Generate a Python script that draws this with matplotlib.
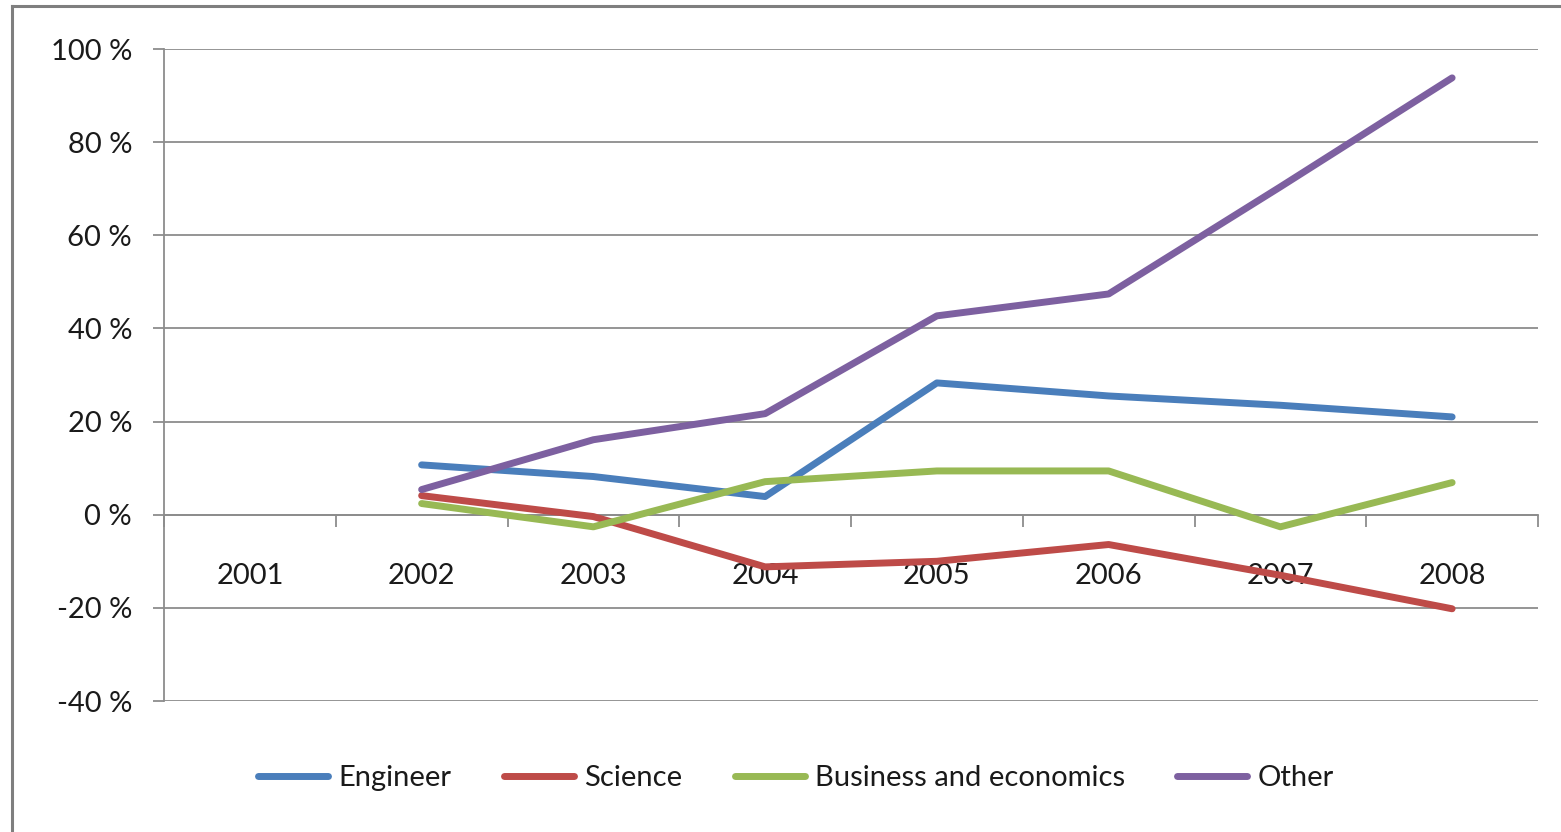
import matplotlib.pyplot as plt
from matplotlib.lines import Line2D
import numpy as np

years = ["2001", "2002", "2003", "2004", "2005", "2006", "2007", "2008"]
engineer = [np.nan, 10.7, 8.2, 3.9, 28.3, 25.5, 23.5, 21.0]
science = [np.nan, 4.1, -0.4, -11.2, -10.0, -6.4, -13.0, -20.2]
business = [np.nan, 2.4, -2.6, 7.1, 9.4, 9.4, -2.6, 6.9]
other = [np.nan, 5.4, 16.1, 21.7, 42.7, 47.4, 70.4, 93.8]

series = [
    ("Engineer", engineer, "#4A7EBB"),
    ("Science", science, "#BE4B48"),
    ("Business and economics", business, "#98B954"),
    ("Other", other, "#7D60A0"),
]

plt.rcParams["font.family"] = ["Lato", "DejaVu Sans"]
grid_col = "#8c8c8c"
txt_col = "#1a1a1a"

fig = plt.figure(figsize=(15.61, 8.32), dpi=100)
ax = fig.add_axes([164 / 1561, 1 - 701 / 832, (1538 - 164) / 1561, (701 - 49) / 832])

x = np.arange(len(years))
for name, vals, col in series:
    ax.plot(x, vals, color=col, lw=5, label=name, solid_capstyle="round",
            solid_joinstyle="round", zorder=3)

ax.set_xlim(-0.5, len(years) - 0.5)
ax.set_ylim(-40, 100)
yt = np.arange(-40, 101, 20)
ax.set_yticks(yt)
ax.set_yticklabels([f"{v} %" for v in yt])
ax.yaxis.grid(True, color=grid_col, lw=1.3)
ax.set_axisbelow(True)

for s in ["top", "right"]:
    ax.spines[s].set_visible(False)
ax.spines["left"].set_color(grid_col)
ax.spines["left"].set_linewidth(1.3)
ax.spines["bottom"].set_position(("data", 0))
ax.spines["bottom"].set_color(grid_col)
ax.spines["bottom"].set_linewidth(1.3)

ax.set_xticks(x)
ax.set_xticklabels(years)
ax.set_xticks(np.arange(-0.5, len(years)), minor=True)
ax.tick_params(axis="x", which="major", length=0, pad=35, labelsize=21, labelcolor=txt_col)
ax.tick_params(axis="x", which="minor", length=8.5, width=1.3, color=grid_col, direction="out")
ax.tick_params(axis="y", length=8, width=1.3, color=grid_col, labelsize=21,
               labelcolor=txt_col, pad=15)

# figure border (left and top)
fig.add_artist(Line2D([11.5 / 1561, 11.5 / 1561], [0, 1 - 5.5 / 832], transform=fig.transFigure,
                      color="#7f7f7f", lw=2.2))
fig.add_artist(Line2D([11.5 / 1561, 1], [1 - 5.5 / 832, 1 - 5.5 / 832], transform=fig.transFigure,
                      color="#7f7f7f", lw=2.2))

fig.legend(loc="center", bbox_to_anchor=(796 / 1561, 1 - 778 / 832), ncol=4, frameon=False,
           fontsize=21, handlelength=2.4, handletextpad=0.35, columnspacing=1.8,
           labelcolor=txt_col)

fig.savefig("out.png", dpi=100)
